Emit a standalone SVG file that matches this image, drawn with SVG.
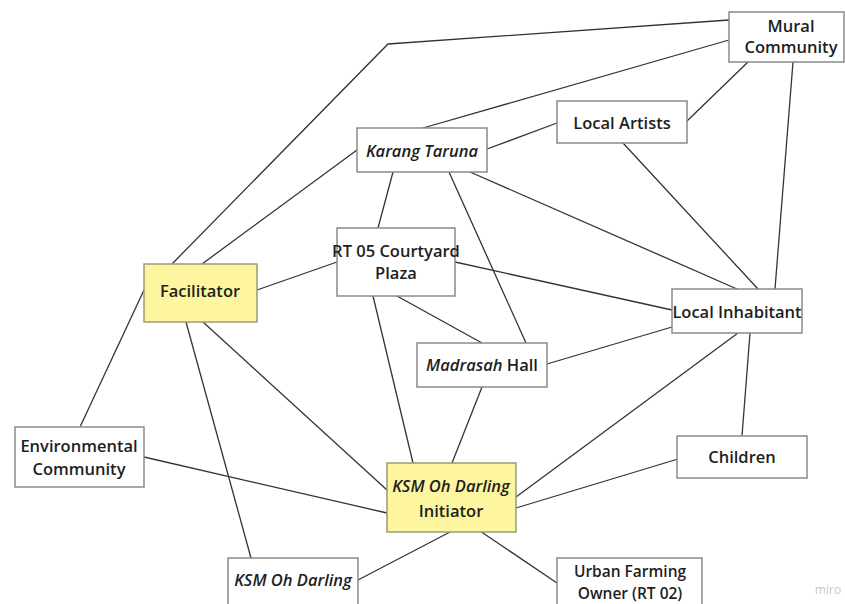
<svg xmlns="http://www.w3.org/2000/svg" width="845" height="604" viewBox="0 0 845 604">
<style>
.bg{fill:#ffffff}
.box{fill:#ffffff;stroke:#8a8a8a;stroke-width:1.5}
.hl{fill:#fdf59f;stroke:#9a9a7a;stroke-width:1.5}
.t{font-family:"Open Sans","Noto Sans","Liberation Sans",sans-serif;font-size:16.5px;font-weight:600;fill:#1e1e1e;text-anchor:middle}
.s{font-size:15.5px}
.i{font-style:italic}
#connectors line,#connectors polyline{stroke:#333;stroke-width:1.3;fill:none}
.wm{font-family:"Open Sans","Liberation Sans",sans-serif;font-size:12px;fill:#c9c9c9;text-anchor:middle}
</style>
<rect class="bg" x="0" y="0" width="845" height="604"/>
<g id="connectors">
<polyline points="172,264 388,44 729,20"/>
<line x1="202" y1="264" x2="357" y2="150"/>
<line x1="423" y1="128" x2="729" y2="40"/>
<line x1="487" y1="149" x2="557" y2="123"/>
<line x1="687" y1="121" x2="748" y2="62"/>
<line x1="793" y1="62" x2="775" y2="289"/>
<line x1="623" y1="143" x2="758" y2="289"/>
<line x1="470" y1="172" x2="737" y2="289"/>
<line x1="393" y1="172" x2="378" y2="228"/>
<line x1="449" y1="172" x2="526" y2="343"/>
<line x1="257" y1="290" x2="337" y2="262"/>
<line x1="455" y1="262" x2="672" y2="310"/>
<line x1="397" y1="296" x2="482" y2="343"/>
<line x1="373" y1="296" x2="413" y2="463"/>
<line x1="482" y1="387" x2="452" y2="463"/>
<line x1="547" y1="364" x2="672" y2="327"/>
<line x1="738" y1="333" x2="516" y2="497"/>
<line x1="750" y1="333" x2="742" y2="436"/>
<line x1="678" y1="459" x2="516" y2="508"/>
<line x1="480" y1="531" x2="557" y2="583"/>
<line x1="450" y1="532" x2="358" y2="580"/>
<line x1="144" y1="457" x2="387" y2="513"/>
<line x1="80" y1="427" x2="144" y2="290"/>
<line x1="186" y1="322" x2="251" y2="558"/>
<line x1="203" y1="322" x2="387" y2="490"/>
</g>
<g id="mural-community">
<rect class="box" x="729" y="12" width="115" height="50"/>
<text class="t" x="791" y="32">Mural</text>
<text class="t" x="791" y="53">Community</text>
</g>
<g id="local-artists">
<rect class="box" x="557" y="101" width="130" height="42"/>
<text class="t" x="622" y="129">Local Artists</text>
</g>
<g id="karang-taruna">
<rect class="box" x="357" y="128" width="130" height="44"/>
<text class="t i" x="422" y="157">Karang Taruna</text>
</g>
<g id="facilitator">
<rect class="hl" x="144" y="264" width="113" height="58"/>
<text class="t" x="200" y="297">Facilitator</text>
</g>
<g id="rt05-courtyard-plaza">
<rect class="box" x="337" y="228" width="118" height="68"/>
<text class="t" x="396" y="257">RT 05 Courtyard</text>
<text class="t" x="396" y="279">Plaza</text>
</g>
<g id="local-inhabitant">
<rect class="box" x="672" y="289" width="130" height="44"/>
<text class="t" x="737" y="318">Local Inhabitant</text>
</g>
<g id="madrasah-hall">
<rect class="box" x="417" y="343" width="130" height="44"/>
<text class="t" x="482" y="371"><tspan class="i">Madrasah</tspan> Hall</text>
</g>
<g id="environmental-community">
<rect class="box" x="15" y="427" width="129" height="60"/>
<text class="t" x="79" y="452">Environmental</text>
<text class="t" x="79" y="475">Community</text>
</g>
<g id="ksm-initiator">
<rect class="hl" x="387" y="463" width="129" height="69"/>
<text class="t" x="451" y="492"><tspan class="i">KSM Oh Darling</tspan></text>
<text class="t" x="451" y="517">Initiator</text>
</g>
<g id="children">
<rect class="box" x="677" y="436" width="130" height="42"/>
<text class="t" x="742" y="463">Children</text>
</g>
<g id="ksm-oh-darling">
<rect class="box" x="228" y="558" width="130" height="52"/>
<text class="t i" x="293" y="586">KSM Oh Darling</text>
</g>
<g id="urban-farming-owner">
<rect class="box" x="557" y="558" width="145" height="54"/>
<text class="t s" x="630" y="577">Urban Farming</text>
<text class="t s" x="630" y="599">Owner (RT 02)</text>
</g>
<text class="wm" x="828" y="594">miro</text>
</svg>
